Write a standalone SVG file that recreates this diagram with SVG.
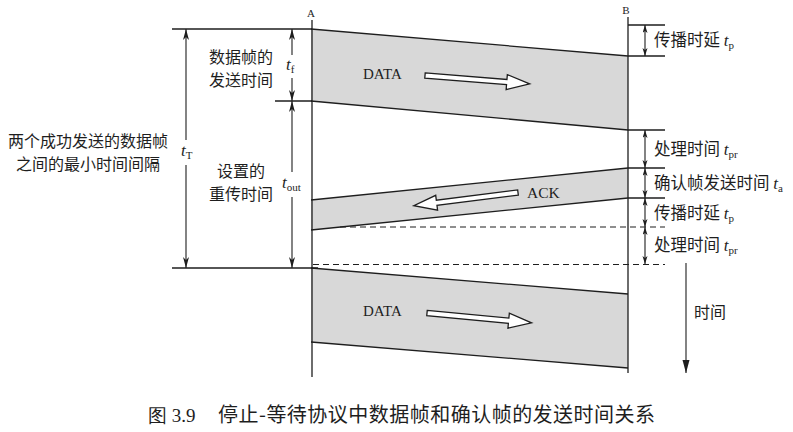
<svg xmlns="http://www.w3.org/2000/svg" width="793" height="432" viewBox="0 0 793 432">
<style>
.ln{stroke:#1e1e1e;stroke-width:1.3;fill:none}
.dash{stroke:#1e1e1e;stroke-width:1.2;fill:none;stroke-dasharray:6 4}
.band{fill:#d8d8d8;stroke:none}
.hollow{fill:#fff;stroke:#1e1e1e;stroke-width:1.3;stroke-linejoin:miter}
.cn{font-family:"Noto Sans CJK SC","Noto Sans",sans-serif;fill:#1e1e1e}
.lat{font-family:"Liberation Serif","Times New Roman",serif;fill:#1e1e1e}
.it{font-style:italic}
.dim{stroke:#1e1e1e;stroke-width:1.1;fill:none}
</style>
<defs>
<marker id="ahL" markerUnits="userSpaceOnUse" markerWidth="12" markerHeight="8" refX="11" refY="3" orient="auto-start-reverse"><path d="M0,0 L11,3 L0,6 L3,3 z" fill="#1e1e1e"/></marker>
<marker id="ahS" markerUnits="userSpaceOnUse" markerWidth="9" markerHeight="6" refX="8" refY="2.5" orient="auto-start-reverse"><path d="M0,0 L8,2.5 L0,5 L2,2.5 z" fill="#1e1e1e"/></marker>
<marker id="ahT" markerUnits="userSpaceOnUse" markerWidth="14" markerHeight="8" refX="13" refY="3.5" orient="auto"><path d="M0,0 L13,3.5 L0,7 z" fill="#1e1e1e"/></marker>
<polygon id="harrow" points="0,-2.6 82,-2.6 82,-7.5 105,0 82,7.5 82,2.6 0,2.6"/>
</defs>

<g id="data1">
<polygon class="band" points="311,29 628,56 628,130 311,101"/>
<line class="ln" x1="311" y1="29" x2="628" y2="56"/>
<line class="ln" x1="311" y1="101" x2="628" y2="130"/>
<text class="lat" x="363" y="79" font-size="15">DATA</text>
<use href="#harrow" class="hollow" transform="translate(425,75.5) rotate(4.6)"/>
</g>

<g id="ack">
<polygon class="band" points="628,168 311,200 311,230 628,198"/>
<line class="ln" x1="628" y1="168" x2="311" y2="200"/>
<line class="ln" x1="628" y1="198" x2="311" y2="230"/>
<text class="lat" x="527" y="198" font-size="15.5">ACK</text>
<use href="#harrow" class="hollow" transform="translate(518,192.5) rotate(172.8)"/>
</g>

<g id="data2">
<polygon class="band" points="311,268 628,294 628,368 311,342"/>
<line class="ln" x1="311" y1="268" x2="628" y2="294"/>
<line class="ln" x1="311" y1="342" x2="628" y2="368"/>
<text class="lat" x="363" y="316" font-size="15">DATA</text>
<use href="#harrow" class="hollow" transform="translate(427,313) rotate(5.4)"/>
</g>

<g id="stationA">
<line class="ln" x1="312" y1="20" x2="312" y2="377"/>
<text class="lat" x="311" y="17" font-size="11" text-anchor="middle">A</text>
</g>
<g id="stationB">
<line class="ln" x1="628" y1="17" x2="628" y2="373"/>
<text class="lat" x="626" y="14" font-size="11" text-anchor="middle">B</text>
</g>

<g id="refLines">
<line class="ln" x1="172" y1="29" x2="312" y2="29"/>
<line class="ln" x1="275" y1="101" x2="312" y2="101"/>
<line class="ln" x1="172" y1="268" x2="318" y2="268"/>
<line class="ln" x1="628" y1="25" x2="665" y2="25"/>
<line class="ln" x1="628" y1="56" x2="665" y2="56"/>
<line class="ln" x1="628" y1="130" x2="665" y2="130"/>
<line class="ln" x1="628" y1="168" x2="665" y2="168"/>
<line class="ln" x1="628" y1="198" x2="665" y2="198"/>
<line class="dash" x1="340" y1="227" x2="665" y2="227"/>
<line class="dash" x1="313" y1="264.5" x2="665" y2="264.5"/>
</g>

<g id="connectors">
<line class="dim" x1="186" y1="140" x2="186" y2="29" marker-end="url(#ahL)"/>
<line class="dim" x1="186" y1="165" x2="186" y2="268" marker-end="url(#ahL)"/>
<line class="dim" x1="292" y1="55" x2="292" y2="29" marker-end="url(#ahL)"/>
<line class="dim" x1="292" y1="78" x2="292" y2="101" marker-end="url(#ahL)"/>
<line class="dim" x1="292" y1="172" x2="292" y2="101" marker-end="url(#ahL)"/>
<line class="dim" x1="292" y1="197" x2="292" y2="268" marker-end="url(#ahL)"/>
<line class="dim" x1="645" y1="25" x2="645" y2="56" marker-start="url(#ahS)" marker-end="url(#ahS)"/>
<line class="dim" x1="645" y1="130" x2="645" y2="168" marker-start="url(#ahS)" marker-end="url(#ahS)"/>
<line class="dim" x1="645" y1="168" x2="645" y2="198" marker-start="url(#ahS)" marker-end="url(#ahS)"/>
<line class="dim" x1="645" y1="198" x2="645" y2="227" marker-start="url(#ahS)" marker-end="url(#ahS)"/>
<line class="dim" x1="645" y1="227" x2="645" y2="264" marker-start="url(#ahS)" marker-end="url(#ahS)"/>
<line class="dim" x1="686" y1="263" x2="686" y2="373" marker-end="url(#ahT)"/>
</g>

<g id="leftLabels">
<text class="cn" font-size="16" text-anchor="middle"><tspan x="241" y="62.5">数据帧的</tspan><tspan x="241" y="85.5">发送时间</tspan></text>
<text class="cn" font-size="16" text-anchor="middle"><tspan x="241" y="177">设置的</tspan><tspan x="241" y="200">重传时间</tspan></text>
<text class="cn" font-size="16" text-anchor="middle"><tspan x="88" y="147">两个成功发送的数据帧</tspan><tspan x="88" y="170">之间的最小时间间隔</tspan></text>
<text class="lat" x="181" y="156" font-size="17"><tspan class="it">t</tspan><tspan font-size="11" dy="3">T</tspan></text>
<text class="lat" x="286" y="70" font-size="17"><tspan class="it">t</tspan><tspan font-size="11" dy="3">f</tspan></text>
<text class="lat" x="282" y="188" font-size="17"><tspan class="it">t</tspan><tspan font-size="11" dy="3">out</tspan></text>
</g>

<g id="rightLabels">
<text class="cn" x="654" y="46" font-size="16.5">传播时延 <tspan class="lat it" font-size="17">t</tspan><tspan class="lat" font-size="11" dy="3">p</tspan></text>
<text class="cn" x="654" y="155" font-size="16.5">处理时间 <tspan class="lat it" font-size="17">t</tspan><tspan class="lat" font-size="11" dy="3">pr</tspan></text>
<text class="cn" x="654" y="189" font-size="16.5">确认帧发送时间 <tspan class="lat it" font-size="17">t</tspan><tspan class="lat" font-size="11" dy="3">a</tspan></text>
<text class="cn" x="654" y="219" font-size="16.5">传播时延 <tspan class="lat it" font-size="17">t</tspan><tspan class="lat" font-size="11" dy="3">p</tspan></text>
<text class="cn" x="654" y="251" font-size="16.5">处理时间 <tspan class="lat it" font-size="17">t</tspan><tspan class="lat" font-size="11" dy="3">pr</tspan></text>
<text class="cn" x="694" y="318" font-size="16">时间</text>
</g>

<g id="caption">
<text class="lat" x="148" y="422" font-size="19">图 3.9</text>
<text class="cn" x="218" y="422" font-size="20" textLength="437" lengthAdjust="spacing">停止-等待协议中数据帧和确认帧的发送时间关系</text>
</g>
</svg>
